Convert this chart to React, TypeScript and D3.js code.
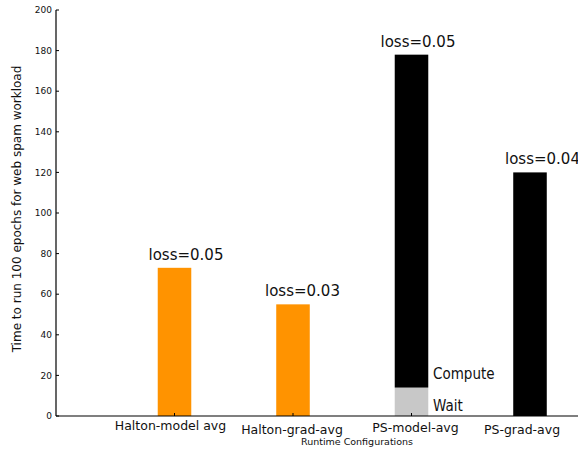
import React from "react";
import * as d3 from "d3";

const categories = ["Halton-model avg", "Halton-grad-avg", "PS-model-avg", "PS-grad-avg"];
const waitValues = [0, 0, 14, 0];
const computeValues = [73, 55, 164, 120];
const lossLabels = ["loss=0.05", "loss=0.03", "loss=0.05", "loss=0.04"];
const yTicks = [0, 20, 40, 60, 80, 100, 120, 140, 160, 180, 200];
const orangeBars = [true, true, false, false];

const W = 578;
const H = 450;
const FONT = "DejaVu Sans, sans-serif";

export default function App() {
  const x = d3.scaleLinear().domain([0, 4.4]).range([56, 577.4]);
  const y = d3.scaleLinear().domain([0, 200]).range([416, 10]);
  const bw = x(0.283) - x(0);
  const labelBaselines = [430, 434, 432, 434];
  const labelShift = [-4, -1, 4, -8];
  const lossShift = [-26, -28, -31, -25];

  return (
    <svg
      width={W}
      height={H}
      style={{ position: "absolute", left: 0, top: 0, background: "#fff" }}
      fontFamily={FONT}
    >
      <rect x={0} y={0} width={W} height={H} fill="#fff" />
      {categories.map((c, i) => {
        const cx = x(i + 1);
        const w = waitValues[i];
        const total = w + computeValues[i];
        return (
          <g key={c}>
            {w > 0 && (
              <rect x={cx - bw / 2} y={y(w)} width={bw} height={y(0) - y(w)} fill="#c8c8c8" />
            )}
            <rect
              x={cx - bw / 2}
              y={y(total)}
              width={bw}
              height={y(w) - y(total)}
              fill={orangeBars[i] ? "#ff9300" : "#000"}
            />
            <text x={cx + lossShift[i]} y={y(total) - 8} fontSize={15} fill="#111">
              {lossLabels[i]}
            </text>
            <line x1={cx} x2={cx} y1={y(0)} y2={y(0) - 3} stroke="#000" strokeWidth={1} />
            <text
              x={cx + labelShift[i]}
              y={labelBaselines[i]}
              fontSize={12.5}
              textAnchor="middle"
              fill="#111"
            >
              {c}
            </text>
          </g>
        );
      })}
      <text x={433} y={379} fontSize={15} fontFamily="DejaVu Sans Condensed, DejaVu Sans" fontStretch="condensed" fill="#111">Compute</text>
      <text x={433} y={411} fontSize={15} fontFamily="DejaVu Sans Condensed, DejaVu Sans" fontStretch="condensed" fill="#111">Wait</text>
      {/* axes */}
      <line x1={56} x2={W} y1={y(0)} y2={y(0)} stroke="#000" strokeWidth={1.2} />
      <line x1={56} x2={56} y1={y(200)} y2={y(0)} stroke="#000" strokeWidth={1.2} />
      {yTicks.map((t) => (
        <g key={t}>
          <line x1={56} x2={59} y1={y(t)} y2={y(t)} stroke="#000" strokeWidth={1} />
          <text x={52} y={y(t)} dy="0.35em" fontSize={9} textAnchor="end" fill="#111">
            {t}
          </text>
        </g>
      ))}
      <text
        transform={`translate(21,209) rotate(-90)`}
        textAnchor="middle"
        fontSize={12}
        fill="#111"
      >
        Time to run 100 epochs for web spam workload
      </text>
      <text x={357} y={445} fontSize={9.5} textAnchor="middle" fill="#111">
        Runtime Configurations
      </text>
    </svg>
  );
}
